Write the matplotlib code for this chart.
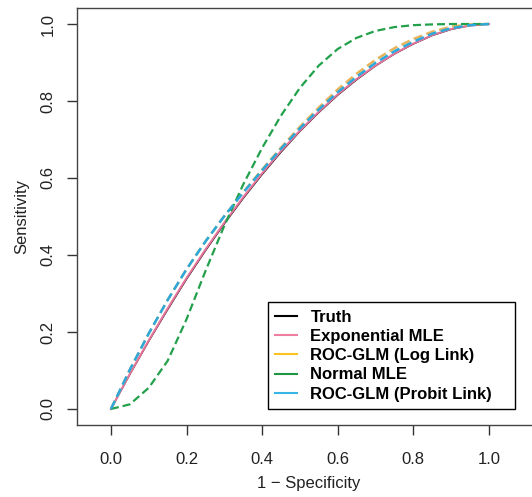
import matplotlib
matplotlib.use("Agg")
import matplotlib.pyplot as plt
from matplotlib.lines import Line2D

plt.rcParams['font.family'] = ['Liberation Sans', 'DejaVu Sans']

# 1 - specificity grid used for reading the curves off the picture
fpr = [0.0, 0.05, 0.1, 0.15, 0.2, 0.25, 0.3, 0.35, 0.4, 0.45, 0.5,
       0.55, 0.6, 0.65, 0.7, 0.75, 0.8, 0.85, 0.9, 0.95, 1.0]

truth = [0.0, 0.090, 0.176, 0.258, 0.337, 0.411, 0.481, 0.547, 0.609, 0.667, 0.721,
         0.770, 0.815, 0.855, 0.891, 0.922, 0.948, 0.970, 0.986, 0.996, 1.0]
exp_mle = [0.0, 0.091, 0.178, 0.261, 0.340, 0.414, 0.484, 0.550, 0.612, 0.670, 0.723,
           0.772, 0.817, 0.857, 0.892, 0.923, 0.949, 0.971, 0.987, 0.996, 1.0]
glm_log = [0.0, 0.102, 0.196, 0.283, 0.363, 0.435, 0.501, 0.563, 0.622, 0.679, 0.733,
           0.783, 0.830, 0.871, 0.907, 0.937, 0.961, 0.980, 0.993, 0.999, 1.0]
normal_mle = [0.0, 0.012, 0.055, 0.125, 0.233, 0.358, 0.476, 0.583, 0.678, 0.762, 0.834,
              0.892, 0.935, 0.964, 0.982, 0.992, 0.997, 0.999, 1.0, 1.0, 1.0]
glm_probit = [0.0, 0.102, 0.196, 0.283, 0.363, 0.435, 0.501, 0.562, 0.620, 0.676, 0.729,
              0.778, 0.823, 0.863, 0.899, 0.929, 0.954, 0.975, 0.989, 0.997, 1.0]

labels = ['Truth', 'Exponential MLE', 'ROC-GLM (Log Link)', 'Normal MLE', 'ROC-GLM (Probit Link)']
legend_colors = ['black', '#EE7FA0', '#FBC31C', '#1E9641', '#35B6E6']

fig = plt.figure(figsize=(5.32, 4.97), dpi=100)
ax = fig.add_axes([0.1447, 0.1449, 0.870, 0.839])

dash = (0, (3.6, 1.8))
ax.plot(fpr, truth, color='black', lw=1.0)
ax.plot(fpr, exp_mle, color='#E5739A', lw=1.5)
ax.plot(fpr, glm_log, color='#E9B35A', lw=1.8, linestyle=dash)
ax.plot(fpr, normal_mle, color='#22A04B', lw=1.6, linestyle=dash)
ax.plot(fpr, glm_probit, color='#2AA9DC', lw=1.8, linestyle=dash)

ax.set_xlim(-0.0899, 1.135)
ax.set_ylim(-0.0416, 1.0416)
ax.set_xticks([0.0, 0.2, 0.4, 0.6, 0.8, 1.0])
ax.set_yticks([0.0, 0.2, 0.4, 0.6, 0.8, 1.0])
ax.set_xticklabels(['0.0', '0.2', '0.4', '0.6', '0.8', '1.0'])
ax.set_yticklabels(['0.0', '0.2', '0.4', '0.6', '0.8', '1.0'])
ax.tick_params(direction='out', length=7.2, width=1, color='#333333',
               labelsize=12, labelcolor='#222222', pad=12)
ax.tick_params(axis='y', labelrotation=90, pad=8)
for lab in ax.get_yticklabels():
    lab.set_va('center')
for sp in ax.spines.values():
    sp.set_color('#444444')
    sp.set_linewidth(1.0)

ax.set_xlabel('1 \u2212 Specificity', fontsize=12, color='#222222', labelpad=7)
ax.set_ylabel('Sensitivity', fontsize=12, color='#222222', labelpad=8)

handles = [Line2D([0], [0], color=c, lw=1.5) for c in legend_colors]
leg = ax.legend(handles, labels, loc='lower left',
                bbox_to_anchor=(0.4127, 0.038, 0.5333, 0.2546), mode='expand',
                prop={'weight': 'bold', 'size': 12}, frameon=True, fancybox=False,
                edgecolor='black', framealpha=1, borderaxespad=0, borderpad=0.45,
                handlelength=1.3, handletextpad=0.8, labelspacing=0.25)
leg.get_frame().set_linewidth(1.0)

fig.savefig('out.png', dpi=100)
